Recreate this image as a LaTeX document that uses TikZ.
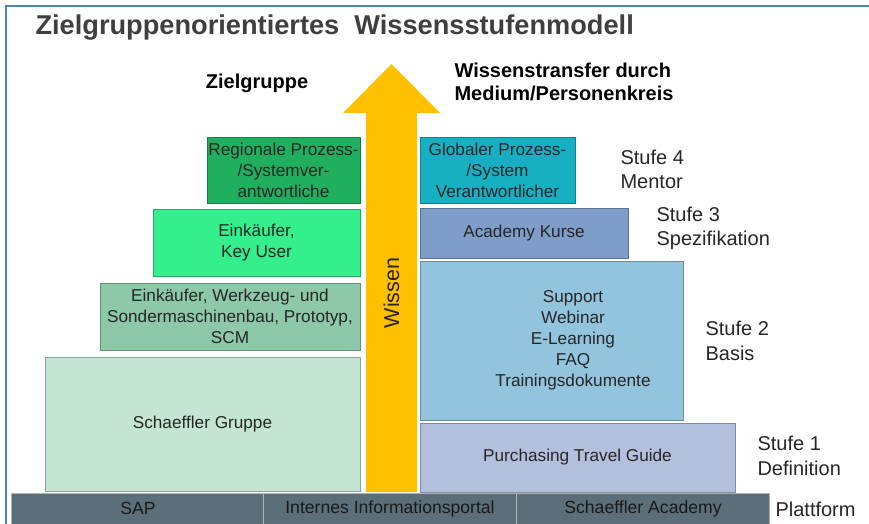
\documentclass[tikz,border=0pt]{standalone}
\usepackage{fontspec}
\setmainfont{Liberation Sans}
\usepackage{xcolor}
\usepackage{tikz}
\definecolor{frame}{HTML}{4F81BD}
\definecolor{titletext}{HTML}{3F3F3F}
\definecolor{boxtext}{HTML}{262626}
\definecolor{arrowyellow}{HTML}{FFC000}
\definecolor{regioGreen}{HTML}{1FAF5E}
\definecolor{keyGreen}{HTML}{33F08D}
\definecolor{buyerGreen}{HTML}{8DC9A8}
\definecolor{groupGreen}{HTML}{C4E5D3}
\definecolor{globalTeal}{HTML}{17B0C2}
\definecolor{academyBlue}{HTML}{7F9DC9}
\definecolor{supportBlue}{HTML}{93C4DE}
\definecolor{travelBlue}{HTML}{B3C0DD}
\definecolor{platformGray}{HTML}{5C6E7A}
\tikzset{
  levelBox/.style={fill=#1, draw=#1!72!black, line width=0.9pt, inner sep=0pt,
    text=boxtext, align=center, font=\fontsize{17.2}{21}\selectfont},
  boxLabel/.style={text=boxtext, align=center, font=\fontsize{17.2}{21}\selectfont},
  stufeLabel/.style={anchor=west, align=left, text=boxtext, font=\fontsize{20}{24.5}\selectfont},
  headLabel/.style={text=black, font=\bfseries\fontsize{20}{23}\selectfont},
  platformBox/.style={fill=platformGray, draw=black!30, line width=0.7pt, inner sep=0pt,
    minimum width=253, minimum height=31, text=black!90, font=\fontsize{17.6}{20}\selectfont}
}
\begin{document}
\begin{tikzpicture}[x=1pt,y=-1pt]
  \useasboundingbox (0,0) rectangle (869,524);
  \draw[frame, line width=2pt] (6,524) -- (6,6) -- (869,6);

  \node[anchor=west, text=titletext, font=\bfseries\fontsize{27.2}{32}\selectfont] (title) at (32,28) {Zielgruppenorientiertes\ \ Wissensstufenmodell};

  \fill[arrowyellow] (391.5,64) -- (440,113) -- (417,113) -- (417,492) -- (366,492) -- (366,113) -- (343,113) -- cycle;
  \node[rotate=90, text=boxtext, font=\fontsize{21.5}{25}\selectfont] (wissen) at (391.5,293) {Wissen};

  \node[headLabel] (zielgruppe) at (257,83) {Zielgruppe};
  \node[headLabel, anchor=west, align=left] (transfer) at (451,82) {Wissenstransfer durch\\Medium/Personenkreis};

  \node[levelBox=regioGreen, minimum width=153, minimum height=66] (regio) at (283.5,170) {Regionale Prozess-\\/Systemver-\\antwortliche};
  \node[levelBox=keyGreen, minimum width=207, minimum height=67] (keyuser) at (256.5,242.5) {Einkäufer,\\Key User};
  \node[levelBox=buyerGreen, minimum width=260, minimum height=67] (buyer) at (230,316.5) {Einkäufer, Werkzeug- und\\Sondermaschinenbau, Prototyp,\\SCM};
  \node[levelBox=groupGreen, minimum width=315, minimum height=134] (group) at (202.5,424) {Schaeffler Gruppe};

  \node[levelBox=globalTeal, minimum width=155, minimum height=66] (global) at (497.5,170) {Globaler Prozess-\\/System\\Verantwortlicher};
  \node[levelBox=academyBlue, minimum width=208, minimum height=50] (academy) at (524,233) {Academy Kurse};
  \node[levelBox=supportBlue, minimum width=263, minimum height=159] (support) at (551.5,340.5) {};
  \node[boxLabel] (supporttext) at (573,340) {Support\\Webinar\\E-Learning\\FAQ\\Trainingsdokumente};
  \node[levelBox=travelBlue, minimum width=315, minimum height=69] (travel) at (577.5,457.5) {Purchasing Travel Guide};

  \node[stufeLabel] (stufe4) at (617,169.5) {Stufe 4\\Mentor};
  \node[stufeLabel] (stufe3) at (653,228.5) {Stufe 3\\Spezifikation};
  \node[stufeLabel] (stufe2) at (702,341) {Stufe 2\\Basis};
  \node[stufeLabel] (stufe1) at (754,456) {Stufe 1\\Definition};

  \node[platformBox] (sap) at (138,508.5) {SAP};
  \node[platformBox] (portal) at (390,508.5) {Internes Informationsportal};
  \node[platformBox] (academyplf) at (643,508.5) {Schaeffler Academy};
  \node[stufeLabel] (plattform) at (772,509) {Plattform};
\end{tikzpicture}
\end{document}
